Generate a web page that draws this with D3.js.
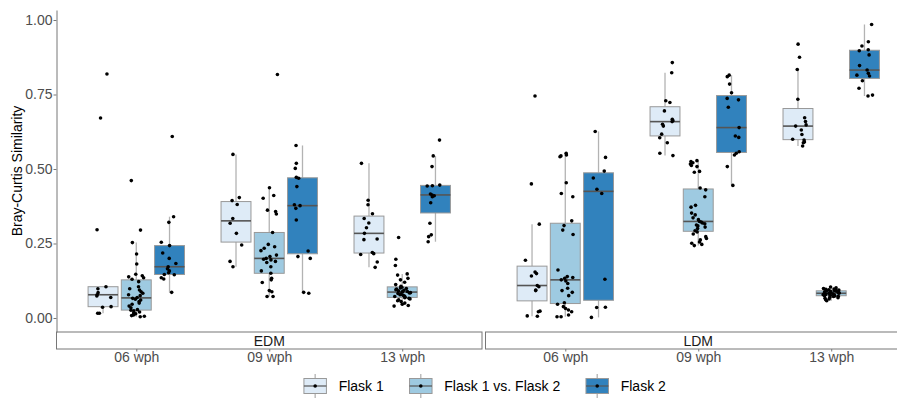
<!DOCTYPE html>
<html>
<head>
<meta charset="utf-8">
<script src="https://cdn.jsdelivr.net/npm/d3@7"></script>
<style>
  body { margin: 0; background: #fff; }
  svg { display: block; font-family: "Liberation Sans", Arial, sans-serif; }
</style>
</head>
<body>
<div id="chart"></div>
<script>
const panels = ["EDM", "LDM"];
const weeks = ["06 wph", "09 wph", "13 wph"];
const flasks = ["Flask 1", "Flask 1 vs. Flask 2", "Flask 2"];
const fills = ["#deebf7", "#9ecae1", "#3182bd"];
const yTicks = [0, 0.25, 0.5, 0.75, 1];

// Bray-Curtis values, one array per flask group (Flask 1, Flask 1 vs. Flask 2, Flask 2)
const edm06 = [
  [0.819, 0.671, 0.296, 0.105, 0.098, 0.085, 0.078, 0.074, 0.069, 0.038, 0.036, 0.016, 0.016],
  [0.461, 0.295, 0.253, 0.215, 0.181, 0.147, 0.142, 0.138, 0.135, 0.130, 0.122, 0.105, 0.098, 0.094, 0.088, 0.083, 0.078, 0.075, 0.069,
   0.066, 0.063, 0.060, 0.055, 0.050, 0.046, 0.040, 0.034, 0.028, 0.026, 0.024, 0.020, 0.018, 0.014, 0.012, 0.010, 0.008, 0.006, 0.004],
  [0.609, 0.340, 0.321, 0.254, 0.243, 0.218, 0.200, 0.183, 0.172, 0.165, 0.158, 0.152, 0.146, 0.145, 0.135, 0.131, 0.086]
];
const edm09 = [
  [0.549, 0.404, 0.394, 0.381, 0.334, 0.318, 0.284, 0.245, 0.190, 0.172],
  [0.817, 0.437, 0.411, 0.402, 0.362, 0.357, 0.349, 0.287, 0.247, 0.239, 0.234, 0.226, 0.211, 0.206, 0.200,
   0.197, 0.195, 0.190, 0.186, 0.172, 0.158, 0.150, 0.133, 0.128, 0.119, 0.092, 0.088, 0.072, 0.072],
  [0.579, 0.519, 0.502, 0.472, 0.469, 0.441, 0.380, 0.377, 0.368, 0.329, 0.225, 0.206, 0.200, 0.086, 0.083]
];
const edm13 = [
  [0.519, 0.395, 0.380, 0.350, 0.334, 0.319, 0.303, 0.284, 0.265, 0.263, 0.220, 0.216, 0.213, 0.188, 0.170],
  [0.270, 0.197, 0.176, 0.148, 0.144, 0.133, 0.128, 0.120, 0.112, 0.106, 0.103, 0.101, 0.099, 0.097, 0.095, 0.093, 0.091, 0.089, 0.088, 0.087,
   0.085, 0.084, 0.082, 0.080, 0.078, 0.076, 0.074, 0.072, 0.070, 0.068, 0.066, 0.064, 0.061, 0.058, 0.055, 0.050, 0.046, 0.042, 0.040],
  [0.597, 0.544, 0.508, 0.446, 0.444, 0.443, 0.416, 0.413, 0.410, 0.407, 0.387, 0.318, 0.279, 0.273, 0.256]
];
const ldm06 = [
  [0.745, 0.450, 0.315, 0.194, 0.154, 0.149, 0.141, 0.109, 0.105, 0.094, 0.092, 0.023, 0.021, 0.007, 0.006],
  [0.553, 0.547, 0.544, 0.541, 0.454, 0.418, 0.407, 0.326, 0.310, 0.295, 0.280, 0.161, 0.139, 0.136, 0.133, 0.128,
   0.124, 0.116, 0.100, 0.092, 0.086, 0.075, 0.051, 0.046, 0.038, 0.032, 0.027, 0.021, 0.010, 0.004, 0.004],
  [0.626, 0.539, 0.493, 0.470, 0.432, 0.418, 0.130, 0.036, 0.035, 0.002]
];
const ldm09 = [
  [0.857, 0.823, 0.729, 0.723, 0.695, 0.667, 0.662, 0.659, 0.650, 0.644, 0.617, 0.605, 0.588, 0.553, 0.545],
  [0.528, 0.525, 0.521, 0.517, 0.512, 0.508, 0.492, 0.489, 0.436, 0.430, 0.407, 0.378, 0.372, 0.352, 0.346, 0.336, 0.330, 0.324,
   0.322, 0.319, 0.316, 0.312, 0.309, 0.305, 0.300, 0.293, 0.289, 0.282, 0.273, 0.267, 0.262, 0.255, 0.251, 0.247, 0.243],
  [0.815, 0.810, 0.785, 0.756, 0.737, 0.732, 0.707, 0.639, 0.611, 0.606, 0.558, 0.553, 0.547, 0.508, 0.445]
];
const ldm13 = [
  [0.919, 0.875, 0.834, 0.734, 0.672, 0.659, 0.648, 0.644, 0.631, 0.616, 0.600, 0.597, 0.591, 0.588, 0.577],
  [0.104, 0.101, 0.099, 0.097, 0.096, 0.095, 0.094, 0.093, 0.092, 0.091, 0.090, 0.089, 0.088, 0.087, 0.086, 0.085, 0.084, 0.083,
   0.083, 0.082, 0.081, 0.080, 0.079, 0.078, 0.077, 0.076, 0.075, 0.074, 0.073, 0.072, 0.070, 0.068, 0.066, 0.064, 0.061, 0.058],
  [0.985, 0.927, 0.913, 0.900, 0.897, 0.883, 0.847, 0.832, 0.821, 0.815, 0.812, 0.796, 0.771, 0.748, 0.745]
];
const values = { EDM: [edm06, edm09, edm13], LDM: [ldm06, ldm09, ldm13] };

const W = 897, H = 398;
const plotTop = 10, plotBottom = 332, stripH = 17;
const panelLeft = [56.5, 485.5], panelW = 425.5;
const font = "'Liberation Sans', Arial, sans-serif";

const svg = d3.select("#chart").append("svg")
  .attr("width", W)
  .attr("height", H);
svg.append("rect").attr("width", W).attr("height", H).attr("fill", "#fff");

const y = d3.scaleLinear().domain([-0.047, 1.0336]).range([plotBottom, plotTop]);
const x = d3.scalePoint().domain(weeks).range([0, panelW]).padding(0.6);
const dodge = d3.scaleBand().domain(flasks)
  .range([-0.375 * x.step(), 0.375 * x.step()]);
const boxW = dodge.bandwidth() * 0.9;
const jitterW = dodge.bandwidth() * 0.25;
const jitter = d3.randomUniform.source(d3.randomLcg(0.42))(-1, 1);

function boxStats(vals) {
  const s = vals.slice().sort(d3.ascending);
  const q1 = d3.quantile(s, 0.25), med = d3.quantile(s, 0.5), q3 = d3.quantile(s, 0.75);
  const iqr = q3 - q1;
  const lo = d3.min(s.filter(v => v >= q1 - 1.5 * iqr));
  const hi = d3.max(s.filter(v => v <= q3 + 1.5 * iqr));
  return { q1, med, q3, lo, hi };
}

panels.forEach((panel, pi) => {
  const g = svg.append("g").attr("transform", `translate(${panelLeft[pi]},0)`);
  const pts = [];

  values[panel].forEach((groups, wi) => {
    groups.forEach((vals, fi) => {
      const cx = x(weeks[wi]) + dodge(flasks[fi]) + dodge.bandwidth() / 2;
      const s = boxStats(vals);
      const bg = g.append("g");

      bg.append("line")
        .attr("x1", cx).attr("x2", cx)
        .attr("y1", y(s.hi)).attr("y2", y(s.q3))
        .attr("stroke", "#b3b3b3").attr("stroke-width", 1.3);
      bg.append("line")
        .attr("x1", cx).attr("x2", cx)
        .attr("y1", y(s.q1)).attr("y2", y(s.lo))
        .attr("stroke", "#b3b3b3").attr("stroke-width", 1.3);
      bg.append("rect")
        .attr("x", cx - boxW / 2)
        .attr("y", y(s.q3))
        .attr("width", boxW)
        .attr("height", y(s.q1) - y(s.q3))
        .attr("fill", fills[fi])
        .attr("stroke", "#999")
        .attr("stroke-width", 1);
      bg.append("line")
        .attr("x1", cx - boxW / 2).attr("x2", cx + boxW / 2)
        .attr("y1", y(s.med)).attr("y2", y(s.med))
        .attr("stroke", "#555").attr("stroke-width", 1.6);

      vals.forEach(v => pts.push({ x: cx + jitter() * jitterW, v }));
    });
  });

  g.selectAll("circle.pt")
    .data(pts)
    .enter()
    .append("circle")
    .attr("class", "pt")
    .attr("cx", d => d.x)
    .attr("cy", d => y(d.v))
    .attr("r", 1.8)
    .attr("fill", "#000");

  // strip below the panel
  g.append("rect")
    .attr("x", 0).attr("y", plotBottom)
    .attr("width", panelW).attr("height", stripH)
    .attr("fill", "#fff")
    .attr("stroke", "#777")
    .attr("stroke-width", 1);
  g.append("text")
    .attr("x", panelW / 2)
    .attr("y", plotBottom + stripH / 2 + 5)
    .attr("text-anchor", "middle")
    .attr("font-family", font)
    .attr("font-size", 14)
    .attr("fill", "#1a1a1a")
    .text(panel);

  const xa = g.append("g")
    .attr("transform", `translate(0,${plotBottom + stripH})`)
    .call(d3.axisBottom(x).tickSize(2.5).tickSizeOuter(0));
  xa.select(".domain").remove();
  xa.selectAll(".tick line").attr("stroke", "#777");
  xa.selectAll(".tick text")
    .attr("y", 3)
    .attr("font-family", font)
    .attr("font-size", 14)
    .attr("fill", "#4d4d4d");
});

// y axis
const ya = svg.append("g")
  .attr("transform", `translate(${panelLeft[0]},0)`)
  .call(d3.axisLeft(y).tickValues(yTicks).tickFormat(d3.format(".2f"))
    .tickSize(3).tickPadding(1).tickSizeOuter(0));
ya.select(".domain").attr("stroke", "#777");
ya.selectAll(".tick line").attr("stroke", "#777");
ya.selectAll(".tick text")
  .attr("font-family", font)
  .attr("font-size", 14)
  .attr("fill", "#4d4d4d");

svg.append("text")
  .attr("transform", `translate(22,${(plotTop + plotBottom) / 2}) rotate(-90)`)
  .attr("text-anchor", "middle")
  .attr("font-family", font)
  .attr("font-size", 14)
  .attr("fill", "#000")
  .text("Bray-Curtis Similarity");

// legend
const legY = 386, legCenter = 483, keyW = 30, textGap = 8.5, itemGap = 22;
const leg = svg.append("g");
let cursor = 0;
flasks.forEach((f, i) => {
  const item = leg.append("g").attr("transform", `translate(${cursor},0)`);
  const kc = keyW / 2;
  item.append("line")
    .attr("x1", kc).attr("x2", kc)
    .attr("y1", legY - 12).attr("y2", legY + 12)
    .attr("stroke", "#b3b3b3").attr("stroke-width", 1.3);
  item.append("rect")
    .attr("x", kc - 11.25).attr("y", legY - 7.5)
    .attr("width", 22.5).attr("height", 15)
    .attr("fill", fills[i]).attr("stroke", "#999");
  item.append("line")
    .attr("x1", kc - 11.25).attr("x2", kc + 11.25)
    .attr("y1", legY).attr("y2", legY)
    .attr("stroke", "#555").attr("stroke-width", 1.2);
  item.append("circle")
    .attr("cx", kc).attr("cy", legY).attr("r", 1.8).attr("fill", "#000");
  const t = item.append("text")
    .attr("x", keyW + textGap)
    .attr("y", legY + 5)
    .attr("font-family", font)
    .attr("font-size", 14)
    .attr("fill", "#000")
    .text(f);
  cursor += keyW + textGap + t.node().getComputedTextLength() + itemGap;
});
const legW = cursor - itemGap;
leg.attr("transform", `translate(${legCenter - legW / 2},0)`);
</script>
</body>
</html>
